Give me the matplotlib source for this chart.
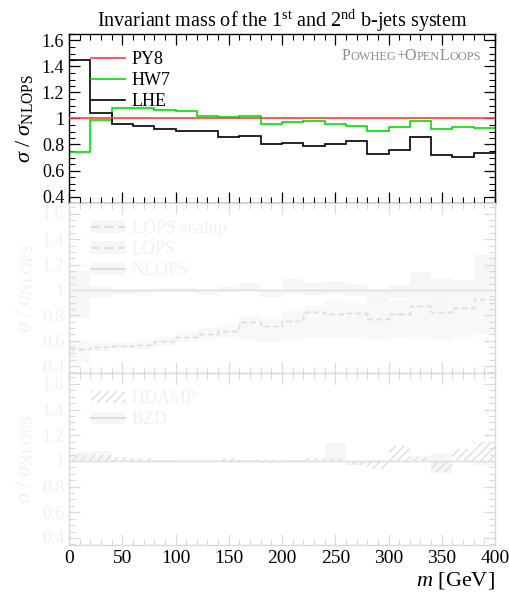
import numpy as np
import matplotlib
matplotlib.use("Agg")
import matplotlib.pyplot as plt
from matplotlib.lines import Line2D
from matplotlib.patches import Patch
from matplotlib.offsetbox import TextArea, HPacker, AnchoredOffsetbox

plt.rcParams['font.family'] = ['Liberation Serif', 'DejaVu Serif']
plt.rcParams['mathtext.fontset'] = 'custom'
plt.rcParams['mathtext.rm'] = 'Liberation Serif'
plt.rcParams['mathtext.it'] = 'Liberation Serif:italic'
plt.rcParams['hatch.linewidth'] = 1.0

# bins in m [GeV]
edges = [0, 20, 40, 60, 80, 100, 120, 140, 160, 180, 200,
         220, 240, 260, 280, 300, 320, 340, 360, 380, 400]

# top panel: ratios to NLOPS
py8 = [1.0] * 20
hw7 = [0.745, 0.99, 1.078, 1.078, 1.068, 1.058, 1.023, 1.01, 1.02, 0.955,
       0.97, 0.98, 0.955, 0.945, 0.90, 0.935, 0.98, 0.92, 0.937, 0.925]
lhe = [1.45, 1.043, 0.955, 0.945, 0.92, 0.90, 0.90, 0.855, 0.865, 0.805,
       0.815, 0.79, 0.80, 0.83, 0.725, 0.755, 0.855, 0.72, 0.705, 0.737]

# middle panel (faded)
nlops = [1.0] * 20
nlops_hi = [1.146, 1.03, 1.0, 1.008, 1.013, 1.013, 1.005, 1.02, 1.056, 1.0,
            1.085, 1.06, 1.07, 1.05, 1.0, 1.04, 1.14, 1.09, 1.077, 1.277]
nlops_lo = [0.782, 0.935, 0.97, 0.975, 0.98, 0.985, 0.956, 0.98, 0.995, 0.944,
            0.967, 0.96, 0.967, 0.95, 0.9, 0.935, 0.91, 0.91, 0.92, 0.72]
lops = [0.538, 0.549, 0.556, 0.564, 0.595, 0.626, 0.651, 0.677, 0.746, 0.715,
        0.756, 0.826, 0.81, 0.815, 0.774, 0.81, 0.877, 0.826, 0.86, 0.928]
lops_scalup = [0.538, 0.549, 0.556, 0.564, 0.595, 0.626, 0.651, 0.677, 0.746, 0.715,
               0.756, 0.826, 0.81, 0.815, 0.774, 0.81, 0.877, 0.826, 0.86, 0.928]
lops_hi = [0.60, 0.58, 0.59, 0.60, 0.63, 0.67, 0.70, 0.72, 0.80, 0.77,
           0.83, 0.877, 0.92, 0.90, 0.897, 0.91, 0.95, 0.93, 0.96, 1.0]
lops_lo = [0.42, 0.52, 0.53, 0.535, 0.56, 0.59, 0.61, 0.62, 0.60, 0.59,
           0.615, 0.62, 0.62, 0.62, 0.60, 0.62, 0.63, 0.60, 0.63, 0.65]

# bottom panel (faded)
bzd = [1.0] * 20
bzd_hi = [1.07, 1.075, 1.005, 1.005, 1.005, 1.005, 1.005, 1.005, 1.005, 1.005,
          1.005, 1.005, 1.14, 1.0, 1.005, 1.005, 1.04, 1.064, 1.005, 1.0]
bzd_lo = [1.0, 1.0, 0.995, 0.995, 0.995, 0.995, 0.995, 0.995, 0.995, 0.995,
          0.995, 0.995, 1.0, 0.967, 0.995, 0.995, 1.0, 0.90, 0.995, 0.96]
hdamp = [1.05, 1.05, 1.03, 1.02, 1.01, 1.0, 0.99, 1.02, 1.01, 0.98,
         1.01, 1.02, 1.02, 0.97, 0.94, 1.115, 1.03, 0.91, 1.09, 1.15]

xticks = [0, 50, 100, 150, 200, 250, 300, 350, 400]
yticks = [0.4, 0.6, 0.8, 1.0, 1.2, 1.4, 1.6]
yticklabels = ['0.4', '0.6', '0.8', '1', '1.2', '1.4', '1.6']

FADE_LINE = '#dedede'
FADE_BAND = '#f6f6f6'
FADE_TEXT = '#f1f1f1'
FADE_FRAME = '#d9d9d9'

fig = plt.figure(figsize=(5.10, 5.93), dpi=100)
L, R = 69 / 510, 495 / 510
H = 593
def panel(top, bot):
    return fig.add_axes([L, 1 - bot / H, R - L, (bot - top) / H])

ax1 = panel(34, 203)
ax2 = panel(203, 373)
ax3 = panel(373, 545)


def style(ax, frame, text, xlabels, ylim):
    ax.set_xlim(0, 400)
    ax.set_ylim(*ylim)
    ax.set_xticks(xticks)
    ax.set_xticks(np.arange(0, 401, 10), minor=True)
    ax.set_yticks(yticks)
    ax.set_yticks(np.arange(0.35, 1.651, 0.05), minor=True)
    ax.set_yticklabels(yticklabels)
    if not xlabels:
        ax.set_xticklabels([])
    ax.tick_params(which='both', direction='in', top=True, right=True,
                   color=frame, labelcolor=text, labelsize=13)
    ax.tick_params(which='major', length=8, width=0.9)
    ax.tick_params(which='minor', length=4, width=0.8)
    for s in ax.spines.values():
        s.set_color(frame)
        s.set_linewidth(1.0)
    ax.set_ylabel(r'$\sigma\ /\ \sigma_{\rm NLOPS}$', fontsize=16, color=text,
                  labelpad=5)


def legend(ax, handles, labels, color):
    ax.legend(handles, labels, loc='upper left', bbox_to_anchor=(0.052, 0.9),
              frameon=False, fontsize=13, handlelength=1.9, handletextpad=0.35,
              labelspacing=0.22, borderpad=0, borderaxespad=0, labelcolor=color)


# ---- top panel
style(ax1, 'black', 'black', False, (0.375, 1.645))
ax1.stairs(py8, edges, baseline=None, color='#ff3b3b', lw=1.2, zorder=3)
ax1.stairs(hw7, edges, baseline=None, color='#00e000', lw=1.2, zorder=2)
ax1.stairs(lhe, edges, baseline=None, color='black', lw=1.2, zorder=2)
ax1.set_title('Invariant mass of the 1$^{\\rm st}$ and 2$^{\\rm nd}$ b-jets system',
              fontsize=14.5, pad=5)
h = [Line2D([], [], color='#ff3b3b', lw=1.2), Line2D([], [], color='#00e000', lw=1.2),
     Line2D([], [], color='black', lw=1.2)]
legend(ax1, h, ['PY8', 'HW7', 'LHE'], 'black')

big, small = 11.5, 8.8
parts = [('P', big), ('OWHEG', small), ('+O', big), ('PEN', small), ('L', big), ('OOPS', small)]
boxes = [TextArea(t, textprops=dict(fontsize=s, color='#8c8c8c')) for t, s in parts]
pack = HPacker(children=boxes, align='baseline', pad=0, sep=0)
ab = AnchoredOffsetbox(loc='upper right', child=pack, frameon=False,
                       bbox_to_anchor=(0.967, 0.915), bbox_transform=ax1.transAxes,
                       borderpad=0, pad=0)
ax1.add_artist(ab)

# ---- middle panel (faded)
style(ax2, FADE_FRAME, FADE_TEXT, False, (0.345, 1.685))
ax2.stairs(nlops_hi, edges, baseline=nlops_lo, fill=True, color=FADE_BAND, lw=0, zorder=1)
ax2.stairs(lops_hi, edges, baseline=lops_lo, fill=True, color='#f8f8f8', lw=0, zorder=1)
ax2.stairs(nlops, edges, baseline=None, color=FADE_LINE, lw=1.0, zorder=3)
ax2.stairs(lops, edges, baseline=None, color=FADE_LINE, lw=1.0, ls=(0, (4, 2.5)), zorder=3)
ax2.stairs(lops_scalup, edges, baseline=None, color=FADE_LINE, lw=1.0,
           ls=(0, (4, 2.5)), zorder=3)
h2 = [(Patch(color=FADE_BAND, lw=0), Line2D([], [], color=FADE_LINE, ls=(0, (4, 2.5)))),
      (Patch(color=FADE_BAND, lw=0), Line2D([], [], color=FADE_LINE, ls=(0, (4, 2.5)))),
      (Patch(color=FADE_BAND, lw=0), Line2D([], [], color=FADE_LINE))]
legend(ax2, h2, ['LOPS scalup', 'LOPS', 'NLOPS'], FADE_TEXT)

# ---- bottom panel (faded)
style(ax3, FADE_FRAME, FADE_TEXT, True, (0.345, 1.685))
ax3.tick_params(axis='x', labelcolor='black', labelsize=14)
ax3.stairs(bzd_hi, edges, baseline=bzd_lo, fill=True, color=FADE_BAND, lw=0, zorder=1)
ax3.stairs(hdamp, edges, baseline=bzd, fill=True, facecolor='none',
           edgecolor=FADE_LINE, hatch='////', lw=0, zorder=2)
ax3.stairs(bzd, edges, baseline=None, color=FADE_LINE, lw=1.0, zorder=3)
h3 = [Patch(facecolor='none', edgecolor=FADE_LINE, hatch='////', lw=0),
      (Patch(color=FADE_BAND, lw=0), Line2D([], [], color=FADE_LINE))]
legend(ax3, h3, ['HDAMP', 'BZD'], FADE_TEXT)
ax3.set_xlabel(r'$m$ [GeV]', fontsize=16, loc='right', labelpad=2)

fig.savefig('out.png', dpi=100)
